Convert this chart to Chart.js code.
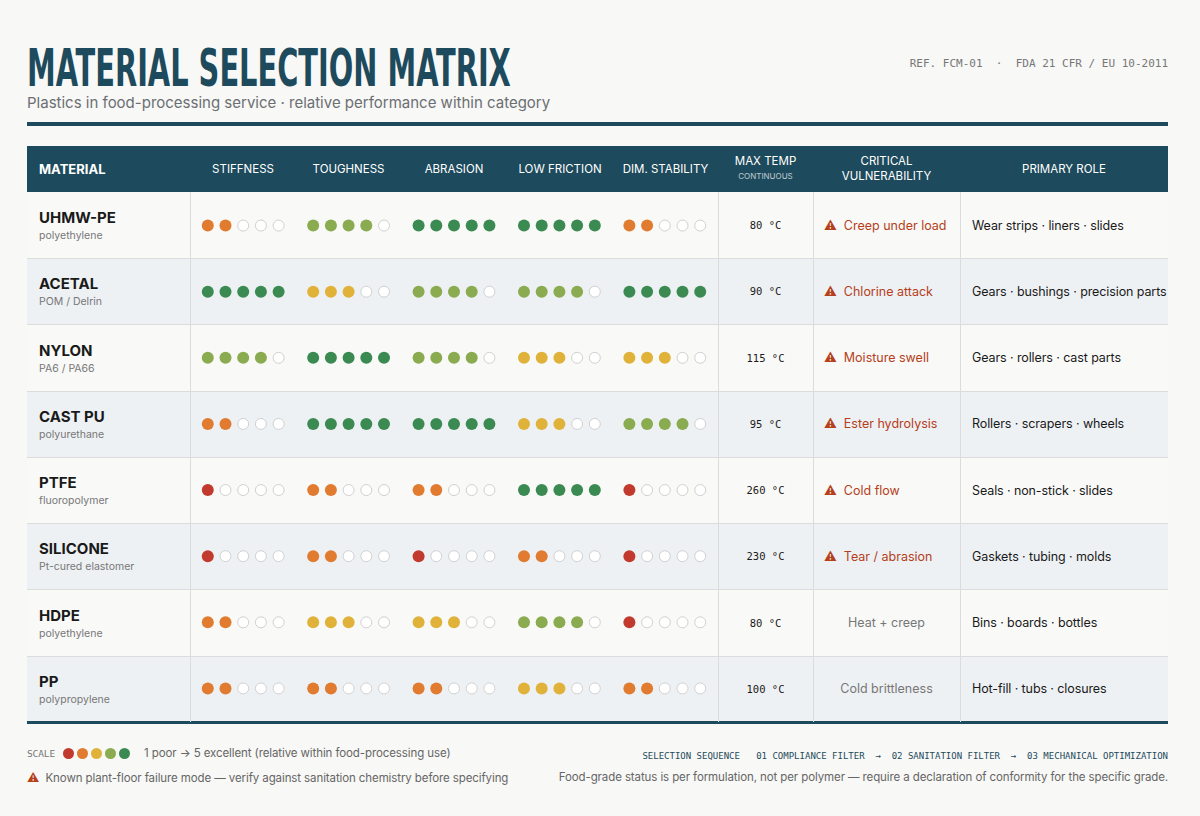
<!DOCTYPE html>
<html>
<head>
<meta charset="utf-8">
<script src="https://cdn.jsdelivr.net/npm/chart.js@4.4.0/dist/chart.umd.min.js"></script>
<style>
body { margin: 0; background: #f8f8f6; font-family: Inter, "Noto Sans", sans-serif; color: #1a1a1a; }
#page { position: relative; width: 1200px; height: 816px; overflow: hidden; }
.abs { position: absolute; }
#title { left: 27px; top: 40px; font-family: "DejaVu Sans Condensed", "Liberation Sans Narrow", sans-serif; font-weight: bold; font-size: 52px; line-height: 56px; color: #1d4a5c; transform-origin: left top; white-space: nowrap; }
#sub { left: 27px; top: 93px; font-size: 15px; color: #6b6f73; }
#ref { right: 32px; top: 57px; font-family: "DejaVu Sans Mono", monospace; font-size: 11px; color: #777; }
#rule { left: 27px; top: 122px; width: 1141px; height: 4px; background: #1d4a5c; }
#head { left: 27px; top: 146px; width: 1141px; height: 46px; background: #1d4a5c; color: #fff; }
.hc { position: absolute; top: 0; height: 46px; display: flex; flex-direction: column; align-items: center; justify-content: center; font-size: 11.5px; text-align: center; line-height: 15px; }
.row { position: absolute; left: 27px; width: 1141px; height: 66.25px; }
.cell { position: absolute; top: 0; height: 100%; display: flex; align-items: center; white-space: nowrap; }
.vline { position: absolute; width: 1px; background: #dcdcdc; top: 192px; height: 530px; }
.mat b { display: block; font-size: 15px; font-weight: 700; }
.mat span { display: block; font-size: 10.5px; color: #777; margin-top: 2px; }
.temp { font-family: "DejaVu Sans Mono", monospace; font-size: 10.5px; justify-content: center; }
.vul { font-size: 12.5px; color: #b5401a; }
.vul.plain { color: #777; justify-content: center; }
.role { font-size: 12.5px; letter-spacing: -0.1px; }
#bottom { left: 27px; top: 721px; width: 1141px; height: 3px; background: #1d4a5c; }
.foot { font-size: 11.5px; color: #666; letter-spacing: -0.1px; }
.mono { font-family: "DejaVu Sans Mono", monospace; font-size: 9px; color: #1d4a5c; }
.warn { color: #b5401a; font-size: 12px; }
</style>
</head>
<body>
<div id="page">
  <div id="title" class="abs">MATERIAL SELECTION MATRIX</div>
  <div id="sub" class="abs">Plastics in food-processing service · relative performance within category</div>
  <div id="ref" class="abs">REF. FCM-01 &nbsp;·&nbsp; FDA 21 CFR / EU 10-2011</div>
  <div id="rule" class="abs"></div>
  <div id="head" class="abs"></div>
  <div id="rows"></div>
  <canvas id="dots" class="abs" width="540" height="542" style="left:184px;top:186px;width:540px;height:542px"></canvas>
  <div id="bottom" class="abs"></div>
  <div class="abs foot" style="left:27px;top:746px;display:flex;align-items:center;gap:4px">
    <span style="font-family:'DejaVu Sans Mono',monospace;font-size:9.5px;color:#777;margin-right:4px">SCALE</span>
    <span id="scale" style="display:flex;gap:3px"></span>
    <span style="margin-left:10px">1 poor → 5 excellent (relative within food-processing use)</span>
  </div>
  <div class="abs foot" style="left:27px;top:770px"><span class="warn">⚠</span>&nbsp; Known plant-floor failure mode — verify against sanitation chemistry before specifying</div>
  <div class="abs mono" style="right:32px;top:751px">SELECTION SEQUENCE &nbsp; 01 COMPLIANCE FILTER &nbsp;→&nbsp; 02 SANITATION FILTER &nbsp;→&nbsp; 03 MECHANICAL OPTIMIZATION</div>
  <div class="abs foot" style="right:32px;top:770px">Food-grade status is per formulation, not per polymer — require a declaration of conformity for the specific grade.</div>
</div>
<script>
const materials = ['UHMW-PE', 'ACETAL', 'NYLON', 'CAST PU', 'PTFE', 'SILICONE', 'HDPE', 'PP'];
const families = ['polyethylene', 'POM / Delrin', 'PA6 / PA66', 'polyurethane', 'fluoropolymer', 'Pt-cured elastomer', 'polyethylene', 'polypropylene'];
const properties = ['STIFFNESS', 'TOUGHNESS', 'ABRASION', 'LOW FRICTION', 'DIM. STABILITY'];
// scores 1..5 per material, one per property
const stiffness   = [2, 5, 4, 2, 1, 1, 2, 2];
const toughness   = [4, 3, 5, 5, 2, 2, 3, 2];
const abrasion    = [5, 4, 4, 5, 2, 1, 3, 2];
const lowFriction = [5, 4, 3, 3, 5, 2, 4, 3];
const dimStab     = [2, 5, 3, 4, 1, 1, 1, 2];
const maxTemp = [80, 90, 115, 95, 260, 230, 80, 100];
const vulnerability = ['Creep under load', 'Chlorine attack', 'Moisture swell', 'Ester hydrolysis', 'Cold flow', 'Tear / abrasion', 'Heat + creep', 'Cold brittleness'];
const critical = [true, true, true, true, true, true, false, false];
const roles = ['Wear strips · liners · slides', 'Gears · bushings · precision parts', 'Gears · rollers · cast parts', 'Rollers · scrapers · wheels', 'Seals · non-stick · slides', 'Gaskets · tubing · molds', 'Bins · boards · bottles', 'Hot-fill · tubs · closures'];
const scoreColors = ['#c23a2e', '#e07b30', '#e0b23a', '#8aab4f', '#3a8a52'];

// squeeze title to reference width
const title = document.getElementById('title');
title.style.transform = `scaleX(${484 / title.offsetWidth})`;

const head = document.getElementById('head');
const cols = [
  [0, 163, 'MATERIAL'],
  [163, 269, 'STIFFNESS'], [269, 374, 'TOUGHNESS'], [374, 480, 'ABRASION'],
  [480, 586, 'LOW FRICTION'], [586, 691, 'DIM. STABILITY'],
  [691, 786, 'MAX TEMP<br><span style="font-size:8px;opacity:.7">CONTINUOUS</span>'],
  [786, 933, 'CRITICAL<br>VULNERABILITY'], [933, 1141, 'PRIMARY ROLE']
];
cols.forEach(([a, b, t], i) => {
  const d = document.createElement('div');
  d.className = 'hc';
  d.style.left = a + 'px'; d.style.width = (b - a) + 'px';
  if (i === 0) { d.style.alignItems = 'flex-start'; d.style.paddingLeft = '12px'; d.style.fontWeight = '700'; d.style.fontSize = '13px'; }
  d.innerHTML = t;
  head.appendChild(d);
});

const rowsEl = document.getElementById('rows');
materials.forEach((m, i) => {
  const r = document.createElement('div');
  r.className = 'row';
  r.style.top = (192 + i * 66.25) + 'px';
  r.style.background = i % 2 ? '#eef1f4' : '#f9f9f7';
  const vul = critical[i]
    ? `<div class="cell vul" style="left:797px;width:140px"><span style="margin-right:7px">⚠</span>${vulnerability[i]}</div>`
    : `<div class="cell vul plain" style="left:786px;width:147px">${vulnerability[i]}</div>`;
  r.innerHTML = `<div class="cell mat" style="left:12px"><div><b>${m}</b><span>${families[i]}</span></div></div>
    <div class="cell temp" style="left:691px;width:95px">${maxTemp[i]} °C</div>${vul}
    <div class="cell role" style="left:945px">${roles[i]}</div>`;
  rowsEl.appendChild(r);
});
[190, 718, 813, 960].forEach(x => {
  const v = document.createElement('div');
  v.className = 'vline'; v.style.left = x + 'px';
  document.getElementById('page').appendChild(v);
});
for (let k = 0; k < 7; k++) {
  const h = document.createElement('div');
  h.className = 'abs'; h.style.cssText = `left:27px;width:1141px;height:1px;background:#dcdcdc;top:${258 + k * 66.25}px`;
  document.getElementById('page').appendChild(h);
}
document.getElementById('scale').innerHTML = scoreColors.map(c => `<span style="width:11px;height:11px;border-radius:50%;background:${c};display:inline-block"></span>`).join('');

const scores = [stiffness, toughness, abrasion, lowFriction, dimStab];
const filled = [], empty = [], filledColors = [];
scores.forEach((arr, p) => arr.forEach((s, row) => {
  for (let d = 0; d < 5; d++) {
    const pt = { x: p + (d - 2) * 0.168, y: row };
    if (d < s) { filled.push(pt); filledColors.push(scoreColors[s - 1]); } else empty.push(pt);
  }
}));

new Chart(document.getElementById('dots'), {
  type: 'scatter',
  data: {
    datasets: [
      { data: filled, pointRadius: 6, pointBackgroundColor: filledColors, pointBorderWidth: 0 },
      { data: empty, pointRadius: 5.5, pointBackgroundColor: '#ffffff', pointBorderColor: '#cfcfcf', pointBorderWidth: 1 }
    ]
  },
  options: {
    responsive: false, animation: false,
    layout: { padding: 0 },
    plugins: { legend: { display: false }, tooltip: { enabled: false } },
    scales: {
      x: { type: 'linear', min: -0.5, max: 4.5, display: false },
      y: { type: 'linear', min: -0.5, max: 7.5, reverse: true, display: false }
    }
  }
});
</script>
</body>
</html>
